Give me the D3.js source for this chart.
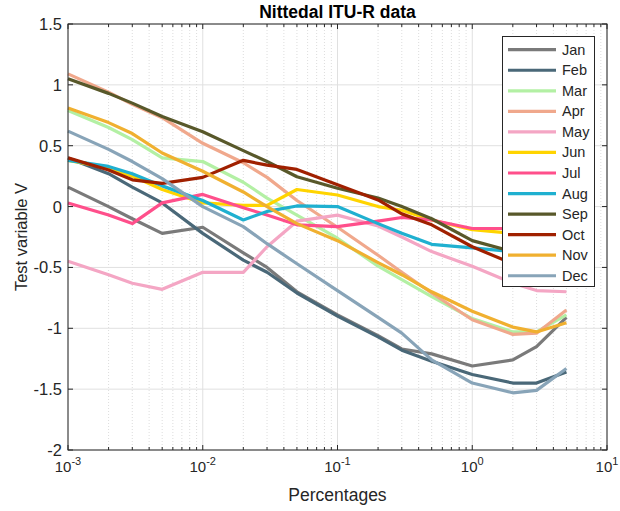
<!DOCTYPE html>
<html lang="en">
<head>
<meta charset="utf-8">
<title>Nittedal ITU-R data</title>
<script src="https://d3js.org/d3.v7.min.js"></script>
<style>
body { margin: 0; background: #fff; }
svg text { font-family: "Liberation Sans", Arial, sans-serif; fill: #262626; }
</style>
</head>
<body>
<div id="chart"></div>
<script>
// percentages (x) where V was computed
var percentages = [0.001, 0.002, 0.003, 0.005, 0.01, 0.02, 0.03, 0.05, 0.1, 0.2, 0.3, 0.5, 1, 2, 3, 5];

var months = ["Jan","Feb","Mar","Apr","May","Jun","Jul","Aug","Sep","Oct","Nov","Dec"];
var colors = ["#7a7a7a","#4a6878","#b3f0a4","#f0a88c","#f4a6c4","#ffd400","#ff4f8b","#1fb0d0","#58582a","#a02000","#f0b030","#88a4b8"];

var jan = [0.16, 0.0, -0.10, -0.22, -0.17, -0.38, -0.50, -0.70, -0.89, -1.06, -1.17, -1.21, -1.31, -1.26, -1.15, -0.91];
var feb = [0.40, 0.27, 0.16, 0.03, -0.22, -0.44, -0.54, -0.71, -0.90, -1.07, -1.18, -1.27, -1.38, -1.45, -1.45, -1.36];
var mar = [0.79, 0.65, 0.55, 0.40, 0.37, 0.20, 0.07, -0.07, -0.26, -0.49, -0.60, -0.74, -0.92, -1.03, -1.03, -0.89];
var apr = [1.09, 0.94, 0.84, 0.73, 0.52, 0.36, 0.24, 0.05, -0.17, -0.40, -0.54, -0.71, -0.93, -1.05, -1.04, -0.85];
var may = [-0.45, -0.56, -0.63, -0.68, -0.54, -0.54, -0.33, -0.12, -0.07, -0.16, -0.25, -0.37, -0.49, -0.63, -0.69, -0.70];
var jun = [0.38, 0.32, 0.25, 0.14, 0.03, 0.01, 0.01, 0.14, 0.095, 0.0, -0.03, -0.11, -0.19, -0.22, -0.23, -0.23];
var jul = [0.03, -0.07, -0.14, 0.03, 0.10, -0.01, -0.07, -0.15, -0.165, -0.12, -0.09, -0.11, -0.18, -0.18, -0.18, -0.18];
var aug = [0.38, 0.33, 0.27, 0.17, 0.05, -0.11, -0.04, 0.005, 0.0, -0.14, -0.22, -0.31, -0.34, -0.37, -0.38, -0.40];
var sep = [1.05, 0.93, 0.85, 0.74, 0.615, 0.46, 0.37, 0.245, 0.15, 0.07, 0.0, -0.10, -0.28, -0.37, -0.40, -0.42];
var oct = [0.40, 0.30, 0.22, 0.19, 0.24, 0.38, 0.34, 0.305, 0.18, 0.055, -0.06, -0.15, -0.33, -0.47, -0.50, -0.52];
var nov = [0.81, 0.69, 0.60, 0.44, 0.29, 0.12, 0.0, -0.14, -0.28, -0.46, -0.56, -0.70, -0.86, -0.99, -1.03, -0.955];
var dec = [0.62, 0.47, 0.37, 0.23, 0.0, -0.165, -0.305, -0.47, -0.69, -0.91, -1.04, -1.26, -1.45, -1.53, -1.51, -1.33];
var series = [jan, feb, mar, apr, may, jun, jul, aug, sep, oct, nov, dec];

var yTicks = [-2, -1.5, -1, -0.5, 0, 0.5, 1, 1.5];
var xTicks = [1e-3, 1e-2, 1e-1, 1e0, 1e1];

var W = 620, H = 511;
var pLeft = 68, pRight = 607, pTop = 24, pBottom = 450;

var svg = d3.select("#chart").append("svg")
  .attr("width", W)
  .attr("height", H);

var x = d3.scaleLog().domain([1e-3, 1e1]).range([pLeft, pRight]);
var y = d3.scaleLinear().domain([-2, 1.5]).range([pBottom, pTop]);

// minor log ticks
var minor = [];
for (var e = -3; e < 1; e++) {
  for (var m = 2; m <= 9; m++) minor.push(m * Math.pow(10, e));
}

// grid
var grid = svg.append("g");
grid.selectAll(".minor").data(minor).enter().append("line")
  .attr("x1", d => x(d)).attr("x2", d => x(d))
  .attr("y1", pTop).attr("y2", pBottom)
  .attr("stroke", "#d4d4d4").attr("stroke-width", 0.8)
  .attr("stroke-dasharray", "1,2");
grid.selectAll(".vx").data(xTicks).enter().append("line")
  .attr("x1", d => x(d)).attr("x2", d => x(d))
  .attr("y1", pTop).attr("y2", pBottom)
  .attr("stroke", "#e0e0e0").attr("stroke-width", 1);
grid.selectAll(".hy").data(yTicks).enter().append("line")
  .attr("x1", pLeft).attr("x2", pRight)
  .attr("y1", d => y(d)).attr("y2", d => y(d))
  .attr("stroke", "#e0e0e0").attr("stroke-width", 1);

// lines
var line = d3.line()
  .x((d, i) => x(percentages[i]))
  .y(d => y(d));

svg.append("g").selectAll("path").data(series).enter().append("path")
  .attr("d", line)
  .attr("fill", "none")
  .attr("stroke", (d, i) => colors[i])
  .attr("stroke-width", 3.2)
  .attr("stroke-linejoin", "round");

// box + ticks
var axes = svg.append("g").attr("stroke", "#262626");
axes.append("rect")
  .attr("x", pLeft).attr("y", pTop)
  .attr("width", pRight - pLeft).attr("height", pBottom - pTop)
  .attr("fill", "none").attr("stroke-width", 1);

yTicks.forEach(function (t) {
  axes.append("line").attr("x1", pLeft).attr("x2", pLeft + 5).attr("y1", y(t)).attr("y2", y(t));
  axes.append("line").attr("x1", pRight).attr("x2", pRight - 5).attr("y1", y(t)).attr("y2", y(t));
});
xTicks.forEach(function (t) {
  axes.append("line").attr("x1", x(t)).attr("x2", x(t)).attr("y1", pBottom).attr("y2", pBottom - 5);
  axes.append("line").attr("x1", x(t)).attr("x2", x(t)).attr("y1", pTop).attr("y2", pTop + 5);
});
minor.forEach(function (t) {
  axes.append("line").attr("x1", x(t)).attr("x2", x(t)).attr("y1", pBottom).attr("y2", pBottom - 3);
  axes.append("line").attr("x1", x(t)).attr("x2", x(t)).attr("y1", pTop).attr("y2", pTop + 3);
});

// tick labels
svg.append("g").selectAll("text").data(yTicks).enter().append("text")
  .attr("x", pLeft - 6).attr("y", d => y(d) + 6)
  .attr("text-anchor", "end")
  .style("font-size", "16.5px")
  .text(d => d);

var xl = svg.append("g").selectAll("text").data(xTicks).enter().append("text")
  .attr("x", d => x(d)).attr("y", 472)
  .attr("text-anchor", "middle")
  .style("font-size", "15px");
xl.append("tspan").text("10");
xl.append("tspan").attr("dy", -7).style("font-size", "11px").text(d => Math.round(Math.log10(d)));

// titles
svg.append("text")
  .attr("x", (pLeft + pRight) / 2).attr("y", 18)
  .attr("text-anchor", "middle")
  .style("font-size", "17.5px").style("font-weight", "bold")
  .style("fill", "#000")
  .text("Nittedal ITU-R data");

svg.append("text")
  .attr("x", (pLeft + pRight) / 2).attr("y", 501)
  .attr("text-anchor", "middle")
  .style("font-size", "17.5px")
  .text("Percentages");

svg.append("text")
  .attr("transform", "translate(27," + ((pTop + pBottom) / 2) + ") rotate(-90)")
  .attr("text-anchor", "middle")
  .style("font-size", "16.5px")
  .text("Test variable V");

// legend
var lg = svg.append("g");
lg.append("rect")
  .attr("x", 502.5).attr("y", 36.5)
  .attr("width", 92).attr("height", 250)
  .attr("fill", "#fff").attr("stroke", "#262626").attr("stroke-width", 1);
var items = lg.selectAll(".it").data(months).enter().append("g")
  .attr("transform", (d, i) => "translate(0," + (49.7 + i * 20.55) + ")");
items.append("line")
  .attr("x1", 508).attr("x2", 556)
  .attr("stroke", (d, i) => colors[i]).attr("stroke-width", 3.2);
items.append("text")
  .attr("x", 562).attr("y", 5)
  .style("font-size", "14.5px")
  .text(d => d);
</script>
</body>
</html>
